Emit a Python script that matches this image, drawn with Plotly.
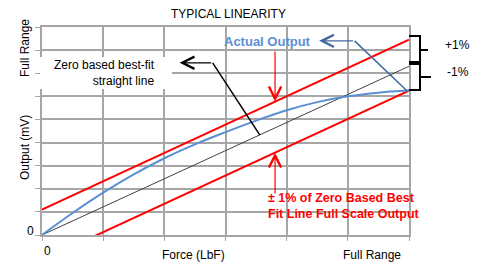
import plotly.graph_objects as go

# ---- data ----
force_x = [0, 0.5, 1, 1.5, 2, 2.5, 3, 3.5, 4, 4.5, 5, 5.5, 6]
actual_output = [0, 0.95, 1.83, 2.62, 3.32, 3.92, 4.45, 4.95, 5.4, 5.75, 6.0, 6.16, 6.25]
fit_x = [0, 6]
fit_y = [0, 7.3]
upper_y = [1.1, 8.45]
lower_y = [-1.1, 6.25]

# plot area in pixels
W, H = 482, 265
L, R, T, B = 42, 409, 27, 235


def px(p):
    return (p - L) / (R - L)


def py(p):
    return (B - p) / (B - T)


FONT = "Liberation Sans, Arial, sans-serif"
GRID = "#a6a6a6"

fig = go.Figure()
fig.add_trace(go.Scatter(x=fit_x, y=fit_y, mode="lines",
                         line=dict(color="#404040", width=1)))
fig.add_trace(go.Scatter(x=fit_x, y=upper_y, mode="lines",
                         line=dict(color="#ff0000", width=2)))
fig.add_trace(go.Scatter(x=fit_x, y=lower_y, mode="lines",
                         line=dict(color="#ff0000", width=2)))
fig.add_trace(go.Scatter(x=force_x, y=actual_output, mode="lines",
                         line=dict(color="#5b8fd3", width=2, shape="spline")))

shapes = []
# white box behind the best-fit label
shapes.append(dict(type="rect", xref="paper", yref="paper",
                   x0=px(40), x1=px(172), y0=py(89), y1=py(57),
                   fillcolor="white", line=dict(width=0), layer="above"))
# black elbow line
shapes.append(dict(type="line", xref="x", yref="y", x0=2.79, y0=7.45, x1=3.56, y1=4.33,
                   line=dict(color="black", width=1.5)))
# blue elbow line
shapes.append(dict(type="line", xref="x", yref="y", x0=5.11, y0=8.40, x1=5.97, y1=6.23,
                   line=dict(color="#4169a0", width=1.5)))
# braces
b1 = (f"M {px(409)},{py(36)} L {px(420)},{py(36)} L {px(420)},{py(62)} L {px(409)},{py(62)} "
      f"M {px(420)},{py(50)} L {px(428)},{py(50)}")
b2 = (f"M {px(409)},{py(64)} L {px(420)},{py(64)} L {px(420)},{py(90)} L {px(409)},{py(90)} "
      f"M {px(420)},{py(77)} L {px(431)},{py(77)}")
for p in (b1, b2):
    shapes.append(dict(type="path", xref="paper", yref="paper", path=p,
                       line=dict(color="black", width=2)))

ann = []


def text(x, y, s, size=12, color="black", angle=0, xanchor="center", align="center", bold=False):
    if bold:
        s = "<b>" + s.replace("<br>", "</b><br><b>") + "</b>"
    ann.append(dict(x=px(x), y=py(y), xref="paper", yref="paper", text=s, showarrow=False,
                    font=dict(family=FONT, size=size, color=color), textangle=angle,
                    xanchor=xanchor, yanchor="middle", align=align))


text(228, 14, "TYPICAL LINEARITY")
text(25, 48, "Full Range", angle=-90)
text(25, 148, "Output (mV)", angle=-90)
text(30, 231, "0")
text(47, 251, "0")
text(193, 255, "Force (LbF)")
text(372, 255, "Full Range")
text(157, 73, "Zero based best-fit<br>straight line", xanchor="right", align="right")
text(267, 41, "Actual Output", size=13, color="#5b8fd3", bold=True)
text(266, 206, "± 1% of Zero Based Best<br>Fit Line Full Scale Output", size=12.5,
     color="#ff0000", xanchor="left", align="left", bold=True)
text(457, 45, "+1%")
text(458, 72, "-1%")


def arrow(x, y, ax, ay, color):
    ann.append(dict(x=x, y=y, ax=ax, ay=ay, xref="x", yref="y", axref="x", ayref="y",
                    text="", showarrow=True, arrowhead=5, arrowsize=2, arrowwidth=1.2,
                    arrowcolor=color, standoff=0, startstandoff=0))


arrow(2.25, 7.45, 2.79, 7.45, "black")
arrow(4.53, 8.40, 5.11, 8.40, "#4169a0")
arrow(3.81, 5.78, 3.81, 8.0, "#ff0000")
arrow(3.81, 3.56, 3.81, 1.73, "#ff0000")

fig.update_layout(
    width=W, height=H,
    margin=dict(l=L, r=W - R, t=T, b=H - B, pad=0),
    paper_bgcolor="white", plot_bgcolor="white",
    showlegend=False,
    shapes=shapes, annotations=ann,
    xaxis=dict(range=[0, 6], dtick=1, showgrid=True, gridcolor=GRID, gridwidth=1.5,
               showline=True, linecolor=GRID, linewidth=1.5, mirror=True,
               ticks="outside", ticklen=4, tickcolor=GRID, showticklabels=False,
               zeroline=False, fixedrange=True),
    yaxis=dict(range=[0, 9], dtick=1, showgrid=True, gridcolor=GRID, gridwidth=1.5,
               showline=True, linecolor=GRID, linewidth=1.5, mirror=True,
               ticks="outside", ticklen=5, tickcolor=GRID, showticklabels=False,
               zeroline=False, fixedrange=True),
)

fig.write_html("out.html", config={"displayModeBar": False},
               post_script="document.body.style.margin='0';document.body.style.overflow='hidden';")
